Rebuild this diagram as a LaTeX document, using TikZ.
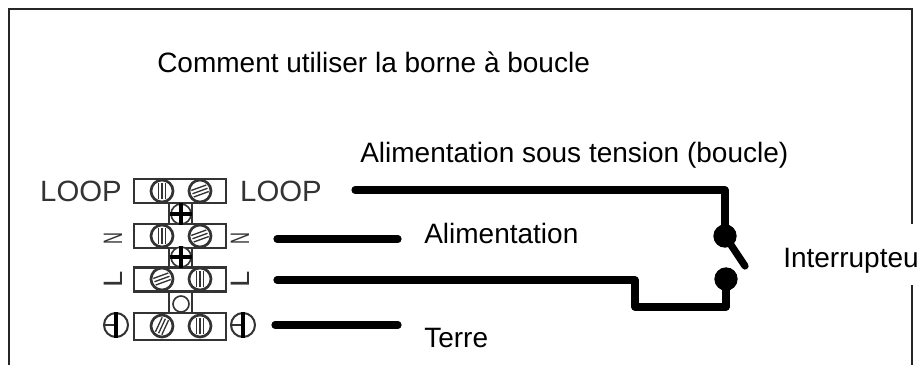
\documentclass[tikz,border=0pt]{standalone}
\usepackage{fontspec}
\usetikzlibrary{positioning}
\setmainfont{Liberation Sans}
\definecolor{termgray}{gray}{0.2}
\tikzset{
  frameline/.style={line width=1.5pt,black!85},
  wire/.style={line width=5.4pt,line cap=round,line join=round},
  termbox/.style={draw=termgray,line width=1.6pt,fill=white,minimum width=69pt,minimum height=18pt,inner sep=0pt},
  neck/.style={draw=termgray,line width=1.6pt,fill=white,minimum width=17pt,inner sep=0pt},
  screw/.style={circle,draw=termgray,line width=2pt,fill=white,minimum size=16.5pt,inner sep=0pt},
  cross/.style={circle,draw=termgray,line width=1.2pt,fill=white,minimum size=15pt,inner sep=0pt},
  joint/.style={circle,fill=black,minimum size=17.5pt,inner sep=0pt},
  caption/.style={anchor=base west,inner sep=0pt,font=\fontsize{21pt}{24pt}\selectfont},
  termlabel/.style={inner sep=0pt,text=termgray,font=\fontsize{22pt}{24pt}\selectfont},
  pole/.style={inner sep=0pt,text=termgray,rotate=90,font=\fontsize{20pt}{22pt}\selectfont},
  earth/.style={circle,draw=termgray,line width=1.5pt,minimum size=18pt,inner sep=0pt},
}
\begin{document}
\begin{tikzpicture}[x=0.75pt,y=-0.75pt]
  \useasboundingbox (0,0) rectangle (919,365);

  % frame, open at the bottom and beside the switch label
  \coordinate (fa) at (9,365);
  \coordinate (fb) at (9,9);
  \coordinate (fc) at (912,9);
  \coordinate (fd) at (912,224);
  \coordinate (fe) at (912,285);
  \coordinate (ff) at (912,365);
  \draw[frameline] (fa) -- (fb) -- (fc) -- (fd);
  \draw[frameline] (fe) -- (ff);

  \node[caption] (title) at (157,72) {Comment utiliser la borne à boucle};
  \node[caption] (live) at (360,162) {Alimentation sous tension (boucle)};
  \node[caption] (supply) at (424,243) {Alimentation};
  \node[caption] (ground) at (424,347) {Terre};
  \node[caption] (switch) at (783,267) {Interrupteu};

  % terminal block
  \node[neck,minimum height=100pt] (neckbox) at (180.5,258) {};
  \node[termbox] (rowa) at (180,191) {};
  \node[termbox] (rowb) at (180,236) {};
  \node[termbox] (rowc) at (180,279.5) {};
  \node[termbox,minimum height=20pt] (rowd) at (180,326.5) {};

  \foreach \name/\px/\py/\ang in {sa/162/191/90,sb/200/191/20,sc/162/236/90,sd/200/236/20,
      se/162/279/20,sf/200/279/90,sg/162/326/65,sh/200/326/90} {
    \node[screw] (\name) at (\px,\py) {};
    \foreach \off in {-3.5,0,3.5}
      \draw[termgray,line width=1pt,shift={(\name)},rotate=\ang]
        (-6pt,\off*0.75pt) -- (6pt,\off*0.75pt);
  }

  \node[cross] (pa) at (181,214) {};
  \node[cross] (pb) at (181,257) {};
  \node[cross,minimum size=12pt] (pc) at (181,304) {};
  \foreach \name in {pa,pb} {
    \draw[black,line width=3pt] (\name.north) -- (\name.south);
    \draw[black,line width=3pt] (\name.west) -- (\name.east);
  }

  \node[termlabel] (loopl) at (81,191) {LOOP};
  \node[termlabel] (loopr) at (281,191) {LOOP};
  \node[pole] (nl) at (113,239) {\scalebox{0.62}[1]{N}};
  \node[pole] (nr) at (240,239) {\scalebox{0.62}[1]{N}};
  \node[pole] (ll) at (113,279) {\scalebox{1.1}[1]{L}};
  \node[pole] (lr) at (240,279) {\scalebox{1.1}[1]{L}};

  \foreach \name/\px in {ea/116,eb/243} {
    \node[earth] (\name) at (\px,325) {};
    \draw[termgray,line width=1.2pt] (\name.west) -- (\name.center);
    \draw[black,line width=2.4pt] (\name.north) -- (\name.south);
  }

  % wires
  \coordinate (wa) at (355,190);
  \coordinate (wb) at (725,190);
  \coordinate (wc) at (277,239);
  \coordinate (wd) at (398,239);
  \coordinate (we) at (277,280);
  \coordinate (wf) at (635,280);
  \coordinate (wg) at (635,307);
  \coordinate (wh) at (726,307);
  \coordinate (wi) at (275,325);
  \coordinate (wj) at (398,325);
  \coordinate (lever) at (745,266);
  \node[joint] (swa) at (725,236) {};
  \node[joint] (swb) at (726,279) {};
  \draw[wire] (wa) -- (wb) -- (swa.center);
  \draw[wire] (swa.center) -- (lever);
  \draw[wire] (wc) -- (wd);
  \draw[wire] (we) -- (wf) -- (wg) -- (wh) -- (swb.center);
  \draw[wire] (wi) -- (wj);
\end{tikzpicture}
\end{document}
